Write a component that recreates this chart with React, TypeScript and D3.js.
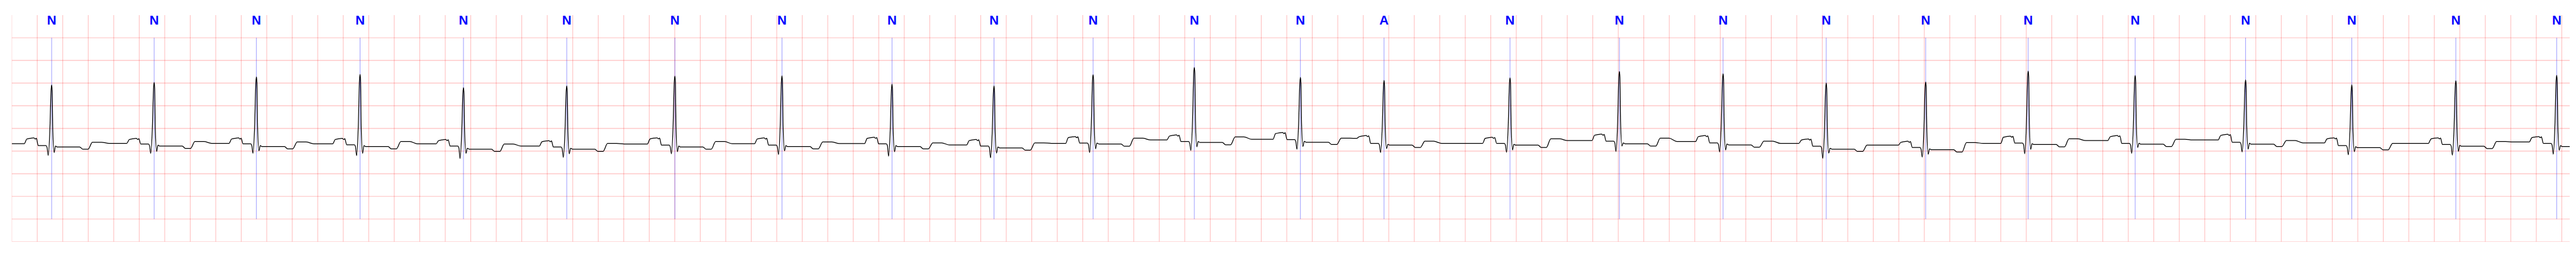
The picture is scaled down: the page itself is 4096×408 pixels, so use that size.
import * as d3 from 'd3';
import React from 'react';

// ECG strip, ~20 s window of one lead, annotated beats
const startLevel = -0.338;
const rTimes = [0.313, 1.117, 1.919, 2.732, 3.543, 4.353, 5.201, 6.041, 6.904, 7.704, 8.481, 9.275, 10.107, 10.763, 11.751, 12.609, 13.422, 14.231, 15.011, 15.815, 16.654, 17.52, 18.353, 19.169, 19.96];
const beatLabels = ['N', 'N', 'N', 'N', 'N', 'N', 'N', 'N', 'N', 'N', 'N', 'N', 'N', 'A', 'N', 'N', 'N', 'N', 'N', 'N', 'N', 'N', 'N', 'N', 'N'];
const rAmps = [0.957, 1.013, 1.134, 1.192, 0.899, 0.937, 1.152, 1.159, 0.975, 0.939, 1.184, 1.343, 1.126, 1.058, 1.114, 1.258, 1.205, 1.0, 1.025, 1.263, 1.167, 1.071, 0.962, 1.053, 1.172];
const qAmps = [-0.596, -0.55, -0.55, -0.6, -0.664, -0.64, -0.56, -0.578, -0.614, -0.65, -0.533, -0.485, -0.46, -0.533, -0.525, -0.51, -0.52, -0.66, -0.634, -0.558, -0.55, -0.52, -0.583, -0.59, -0.57];
const sAmps = [-0.533, -0.508, -0.495, -0.55, -0.55, -0.56, -0.515, -0.495, -0.515, -0.545, -0.45, -0.406, -0.4, -0.444, -0.475, -0.39, -0.475, -0.545, -0.57, -0.462, -0.42, -0.457, -0.513, -0.508, -0.48];
const pAmps = [-0.22, -0.23, -0.22, -0.23, -0.255, -0.28, -0.217, -0.22, -0.205, -0.255, -0.19, -0.154, -0.1, -0.167, -0.205, -0.136, -0.167, -0.242, -0.293, -0.18, -0.167, -0.14, -0.217, -0.217, -0.19];
const prLevels = [-0.38, -0.345, -0.34, -0.36, -0.39, -0.41, -0.37, -0.37, -0.34, -0.39, -0.323, -0.29, -0.247, -0.33, -0.33, -0.28, -0.318, -0.394, -0.42, -0.323, -0.33, -0.305, -0.38, -0.356, -0.33];
const stLevels = [-0.41, -0.39, -0.4, -0.4, -0.457, -0.457, -0.41, -0.4, -0.4, -0.43, -0.343, -0.31, -0.305, -0.37, -0.37, -0.34, -0.364, -0.457, -0.47, -0.356, -0.348, -0.348, -0.424, -0.394, -0.4];
const tLevels = [-0.305, -0.29, -0.3, -0.29, -0.343, -0.33, -0.29, -0.3, -0.32, -0.318, -0.217, -0.187, -0.217, -0.28, -0.23, -0.217, -0.28, -0.37, -0.313, -0.23, -0.24, -0.268, -0.33, -0.29, -0.4];
const tailLevels = [-0.33, -0.33, -0.34, -0.34, -0.39, -0.343, -0.338, -0.335, -0.365, -0.33, -0.255, -0.24, -0.22, -0.33, -0.268, -0.288, -0.33, -0.37, -0.33, -0.268, -0.255, -0.32, -0.33, -0.3, -0.41];

const tMax = 20.062;
const S = 0.544;
const W = 7522 * S;
const H = 750 * S;
const left = 34.3 * S;
const right = 7511 * S;
const top = 44 * S;
const bottom = 705.5 * S;

function buildTrace(): [number, number][] {
  const pts: [number, number][] = [[0, startLevel]];
  rTimes.forEach((r, i) => {
    const pre = i === 0 ? startLevel : tailLevels[i - 1];
    const p = pAmps[i], pr = prLevels[i], q = qAmps[i], rv = rAmps[i], s = sAmps[i];
    const st = stLevels[i], t = tLevels[i], tail = tailLevels[i];
    // P wave, PR segment, QRS (offsets in s from the R peak)
    const before: [number, number][] = [
      [-0.215, pre], [-0.195, p - 0.015], [-0.17, p], [-0.14, p + 0.01], [-0.128, p - 0.015],
      [-0.12, p + 0.005], [-0.105, pr], [-0.045, pr], [-0.036, pr - 0.04], [-0.027, q],
      [-0.014, q + 0.36 * (rv - q)], [-0.0045, rv - 0.12], [0, rv], [0.004, rv - 0.12],
      [0.009, s + 0.33 * (rv - s)], [0.0196, s],
    ];
    // ST segment and T wave
    const after: [number, number][] = [
      [0.03, st + 0.02], [0.045, st], [0.22, st], [0.245, st - 0.05], [0.285, st - 0.05],
      [0.32, t], [0.39, t], [0.45, tail],
    ];
    const nextP = i + 1 < rTimes.length ? rTimes[i + 1] - 0.215 : Infinity;
    before.forEach(([dt, v]) => pts.push([r + dt, v]));
    after.filter(([dt]) => r + dt < nextP - 0.01).forEach(([dt, v]) => pts.push([r + dt, v]));
  });
  return pts;
}

const App: React.FC = () => {
  const x = d3.scaleLinear().domain([0, tMax]).range([left, right]);
  const y = d3.scaleLinear().domain([-2.5, 2.5]).range([bottom, top]);

  const xGrid = d3.range(0, 100.5).map(k => k * 0.2);
  const yGrid = d3.range(-2.5, 2.01, 0.5);

  const line = d3.line<[number, number]>()
    .x(d => x(d[0]))
    .y(d => y(d[1]))
    .curve(d3.curveMonotoneX);
  const trace = line(buildTrace()) ?? '';

  return (
    <div>
      <style>{'body{margin:0;background:#fff}'}</style>
      <svg width={W} height={H} style={{ display: 'block' }}>
        <defs>
          <clipPath id="plot">
            <rect x={left} y={top} width={right - left} height={bottom - top} />
          </clipPath>
        </defs>
        <rect width={W} height={H} fill="#fff" />
        <g clipPath="url(#plot)">
          {xGrid.map((t, i) => (
            <line key={'vx' + i} x1={x(t)} x2={x(t)} y1={top} y2={bottom}
              stroke="red" strokeOpacity={0.25} strokeWidth={2 * S} />
          ))}
          {yGrid.map((v, i) => (
            <line key={'hy' + i} x1={left} x2={right} y1={y(v)} y2={y(v)}
              stroke="red" strokeOpacity={0.25} strokeWidth={2 * S} />
          ))}
          {rTimes.map((r, i) => (
            <line key={'ann' + i} x1={x(r)} x2={x(r)} y1={y(2)} y2={y(-2)}
              stroke="blue" strokeOpacity={0.6} strokeWidth={1.2 * S} />
          ))}
          <path d={trace} fill="none" stroke="#000" strokeWidth={2.3 * S} strokeLinejoin="round" />
        </g>
        {rTimes.map((r, i) => (
          <text key={'lb' + i} x={x(r)} y={71.5 * S} textAnchor="middle"
            fontFamily="Liberation Sans, Arial, sans-serif" fontWeight="bold"
            fontSize={37.7 * S} fill="blue">
            {beatLabels[i]}
          </text>
        ))}
      </svg>
    </div>
  );
};

export default App;
